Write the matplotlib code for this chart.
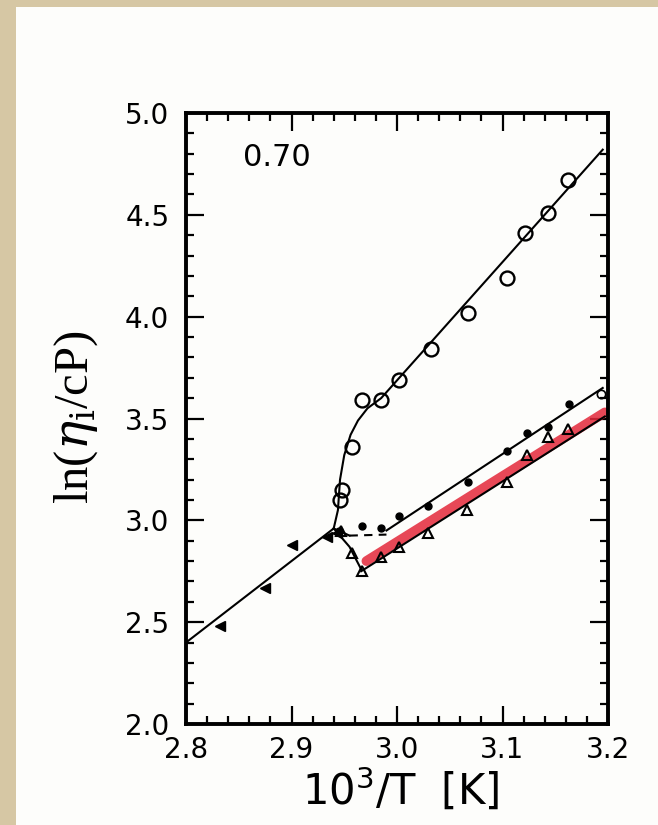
import numpy as np
import matplotlib
matplotlib.use("Agg")
import matplotlib.pyplot as plt
from matplotlib.patches import Rectangle
from matplotlib.ticker import MultipleLocator

# open circles
circ_x = [2.946, 2.948, 2.957, 2.967, 2.985, 3.002, 3.032, 3.067, 3.104, 3.121, 3.143, 3.162]
circ_y = [3.10, 3.15, 3.36, 3.59, 3.59, 3.69, 3.84, 4.02, 4.19, 4.41, 4.51, 4.67]
# small filled dots
dot_x = [2.945, 2.967, 2.985, 3.002, 3.029, 3.067, 3.104, 3.123, 3.143, 3.163]
dot_y = [2.95, 2.97, 2.96, 3.02, 3.07, 3.19, 3.34, 3.43, 3.46, 3.57]
# open triangles
tri_x = [2.947, 2.957, 2.967, 2.985, 3.002, 3.029, 3.066, 3.104, 3.123, 3.143, 3.162]
tri_y = [2.95, 2.84, 2.75, 2.82, 2.87, 2.94, 3.05, 3.19, 3.32, 3.41, 3.45]
# filled triangles (high T side)
lt_x = [2.832, 2.875, 2.900, 2.934, 2.943]
lt_y = [2.48, 2.67, 2.88, 2.92, 2.94]

# fitted curves
low_x = [2.80, 2.940]
low_y = [2.40, 2.96]
up_x = [2.940, 2.944, 2.946, 2.950, 2.956, 2.963, 2.972, 2.985, 3.195]
up_y = [2.96, 3.05, 3.20, 3.32, 3.42, 3.49, 3.55, 3.60, 4.82]
mid_x1 = [2.940, 2.955]
mid_y1 = [2.96, 2.925]
mid_x2 = [2.955, 2.990]
mid_y2 = [2.925, 2.93]
mid_x3 = [2.990, 3.195]
mid_y3 = [2.95, 3.65]
bot_x1 = [2.940, 2.955, 2.966]
bot_y1 = [2.96, 2.87, 2.76]
bot_x2 = [2.966, 3.197]
bot_y2 = [2.75, 3.51]
red_x = [2.971, 3.197]
red_y = [2.80, 3.53]

fig = plt.figure(figsize=(6.58, 8.25), dpi=100, facecolor='#d6c7a4')
fig.patches.append(Rectangle((16/658, 0), 1, 1 - 7/825, transform=fig.transFigure,
                             facecolor='#fdfdfb', edgecolor='none', zorder=-5))

ax = fig.add_axes([186/658, 1 - 724/825, 422/658, 611/825])
ax.set_facecolor('none')
ax.set_zorder(2)

ax.plot(red_x, red_y, color='#e4283a', lw=7, alpha=0.85, solid_capstyle='round', zorder=2)
k = dict(color='black', lw=1.5, zorder=3)
ax.plot(low_x, low_y, **k)
ax.plot(up_x, up_y, **k)
ax.plot(mid_x1, mid_y1, **k)
ax.plot(mid_x2, mid_y2, color='black', lw=1.5, ls=(0, (4, 3)), zorder=3)
ax.plot(mid_x3, mid_y3, **k)
ax.plot(bot_x1, bot_y1, **k)
ax.plot(bot_x2, bot_y2, **k)

ax.plot(circ_x, circ_y, 'o', ms=10, mfc='none', mec='black', mew=1.7, zorder=4)
ax.plot(dot_x, dot_y, 'o', ms=5, color='black', zorder=4)
ax.plot([3.193], [3.62], 'o', ms=6, mfc='none', mec='black', mew=1.2, zorder=4)
ax.plot(tri_x, tri_y, '^', ms=7, mfc='none', mec='black', mew=1.5, zorder=4)
ax.plot(lt_x, lt_y, '<', ms=7, color='black', zorder=4)

ax.text(2.886, 4.78, '0.70', fontsize=22, ha='center', va='center', family='DejaVu Sans')

ax.set_xlim(2.8, 3.2)
ax.set_ylim(2.0, 5.0)
ax.xaxis.set_major_locator(MultipleLocator(0.1))
ax.xaxis.set_minor_locator(MultipleLocator(0.02))
ax.yaxis.set_major_locator(MultipleLocator(0.5))
ax.yaxis.set_minor_locator(MultipleLocator(0.1))
ax.tick_params(which='both', direction='in', top=True, right=True, width=1.6)
ax.tick_params(which='major', length=13)
ax.tick_params(which='minor', length=6)
ax.tick_params(axis='x', which='major', labelsize=20, pad=9)
ax.tick_params(axis='y', which='major', labelsize=20, pad=12)
ax.set_xticks([2.8, 2.9, 3.0, 3.1, 3.2])
ax.set_xticklabels(['2.8', '2.9', '3.0', '3.1', '3.2'])
ax.set_yticks([2.0, 2.5, 3.0, 3.5, 4.0, 4.5, 5.0])
ax.set_yticklabels(['2.0', '2.5', '3.0', '3.5', '4.0', '4.5', '5.0'])
for s in ax.spines.values():
    s.set_linewidth(2.8)

fig.text(401/658, 1 - 790/825, r'10$^3$/T  [K]', fontsize=30, ha='center', va='center',
         family='DejaVu Sans')
fig.text(76/658, 1 - 417/825, r'ln($\eta_{\rm i}$/cP)', fontsize=35, ha='center', va='center',
         rotation=90, family='Liberation Serif', math_fontfamily='dejavuserif')

fig.savefig('out.png', dpi=100, facecolor=fig.get_facecolor())
